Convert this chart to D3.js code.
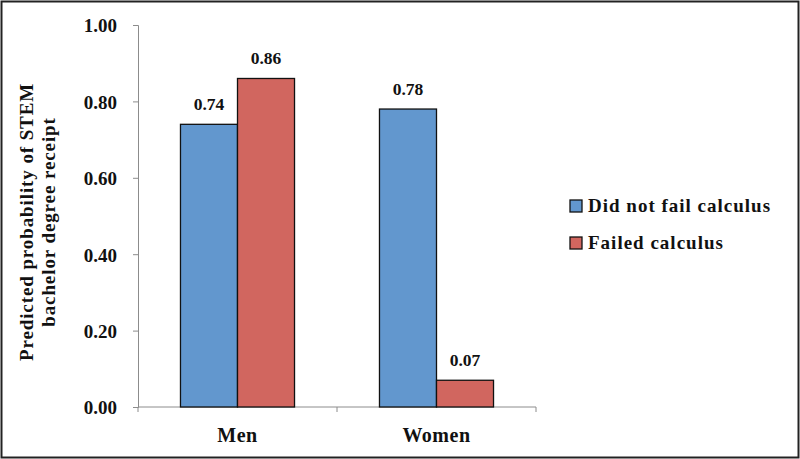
<!DOCTYPE html>
<html>
<head>
<meta charset="utf-8">
<script src="https://cdn.jsdelivr.net/npm/d3@7"></script>
<style>
  body { margin: 0; background: #fff; }
  text { font-family: "Liberation Serif", "DejaVu Serif", serif; font-weight: bold; fill: #111; }
</style>
</head>
<body>
<div id="chart"></div>
<script>
// data
let categories = ["Men", "Women"]
let series = ["Did not fail calculus", "Failed calculus"]
let didNotFail = [0.74, 0.78]
let failed = [0.86, 0.07]
let yTicks = [0, 0.2, 0.4, 0.6, 0.8, 1.0]
let colors = ["#6297CE", "#D1665F"]

let width = 800, height = 459
let margin = { left: 138, top: 25, right: 264, bottom: 52 }

let svg = d3.select("#chart").append("svg")
    .attr("width", width)
    .attr("height", height)

// outer frame
svg.append("rect")
    .attr("x", 1.5).attr("y", 1.5)
    .attr("width", width - 3).attr("height", height - 3)
    .attr("fill", "none")
    .attr("stroke", "#222")
    .attr("stroke-width", 2)

let x0 = d3.scaleBand()
    .domain(categories)
    .range([margin.left, width - margin.right])
    .padding(0)
let x1 = d3.scaleBand()
    .domain(series)
    .range([0, x0.bandwidth()])
    .paddingInner(0)
    .paddingOuter(0.745)
let y = d3.scaleLinear()
    .domain([0, 1])
    .range([height - margin.bottom, margin.top])

let rows = categories.map((c, i) => ({ cat: c, vals: [didNotFail[i], failed[i]] }))

// y axis
let yAxis = svg.append("g")
    .attr("transform", "translate(" + margin.left + ",0)")
    .call(d3.axisLeft(y).tickValues(yTicks).tickFormat(d3.format(".2f")).tickSize(5).tickPadding(16))
yAxis.selectAll("path, line").attr("stroke", "#8c8c8c")
yAxis.selectAll("text")
    .attr("font-family", null)
    .style("font-size", "19px")
    .attr("dy", "0.36em")

// x axis
let xAxis = svg.append("g")
    .attr("transform", "translate(0," + y(0) + ")")
xAxis.append("line")
    .attr("x1", margin.left).attr("x2", width - margin.right)
    .attr("stroke", "#8c8c8c")
let bounds = [margin.left].concat(categories.map(c => x0(c) + x0.bandwidth()))
xAxis.selectAll(".xt")
    .data(bounds)
    .enter()
    .append("line")
    .attr("x1", d => d).attr("x2", d => d)
    .attr("y1", 0).attr("y2", 5)
    .attr("stroke", "#8c8c8c")
xAxis.selectAll(".xl")
    .data(categories)
    .enter()
    .append("text")
    .attr("x", d => x0(d) + x0.bandwidth() / 2)
    .attr("y", 35)
    .attr("text-anchor", "middle")
    .style("font-size", "20px")
    .style("letter-spacing", "0.5px")
    .text(d => d)

// bars
let groups = svg.selectAll(".grp")
    .data(rows)
    .enter()
    .append("g")
    .attr("transform", d => "translate(" + x0(d.cat) + ",0)")

groups.selectAll("rect")
    .data(d => d.vals.map((v, j) => ({ s: series[j], v: v, j: j })))
    .enter()
    .append("rect")
    .attr("x", d => x1(d.s))
    .attr("y", d => y(d.v))
    .attr("width", x1.bandwidth())
    .attr("height", d => y(0) - y(d.v))
    .attr("fill", d => colors[d.j])
    .attr("stroke", "#111")
    .attr("stroke-width", 1.3)

groups.selectAll(".lbl")
    .data(d => d.vals.map((v, j) => ({ s: series[j], v: v })))
    .enter()
    .append("text")
    .attr("x", d => x1(d.s) + x1.bandwidth() / 2)
    .attr("y", d => y(d.v) - 14)
    .attr("text-anchor", "middle")
    .style("font-size", "17.5px")
    .text(d => d3.format(".2f")(d.v))

// y title
let yt = svg.append("text")
    .attr("transform", "translate(37,222) rotate(-90)")
    .attr("text-anchor", "middle")
    .style("font-size", "19px")
    .style("letter-spacing", "0.9px")
yt.append("tspan").attr("x", 0).attr("dy", "-0.2em").text("Predicted probability of STEM")
yt.append("tspan").attr("x", 0).attr("dy", "1.15em").text("bachelor degree receipt")

// legend
let legend = svg.selectAll(".leg")
    .data(series)
    .enter()
    .append("g")
    .attr("transform", (d, i) => "translate(570," + (200 + i * 37) + ")")
legend.append("rect")
    .attr("width", 12).attr("height", 12)
    .attr("fill", (d, i) => colors[i])
    .attr("stroke", "#111")
    .attr("stroke-width", 1.3)
legend.append("text")
    .attr("x", 18).attr("y", 12)
    .style("font-size", "19px")
    .style("letter-spacing", "1px")
    .text(d => d)
</script>
</body>
</html>
